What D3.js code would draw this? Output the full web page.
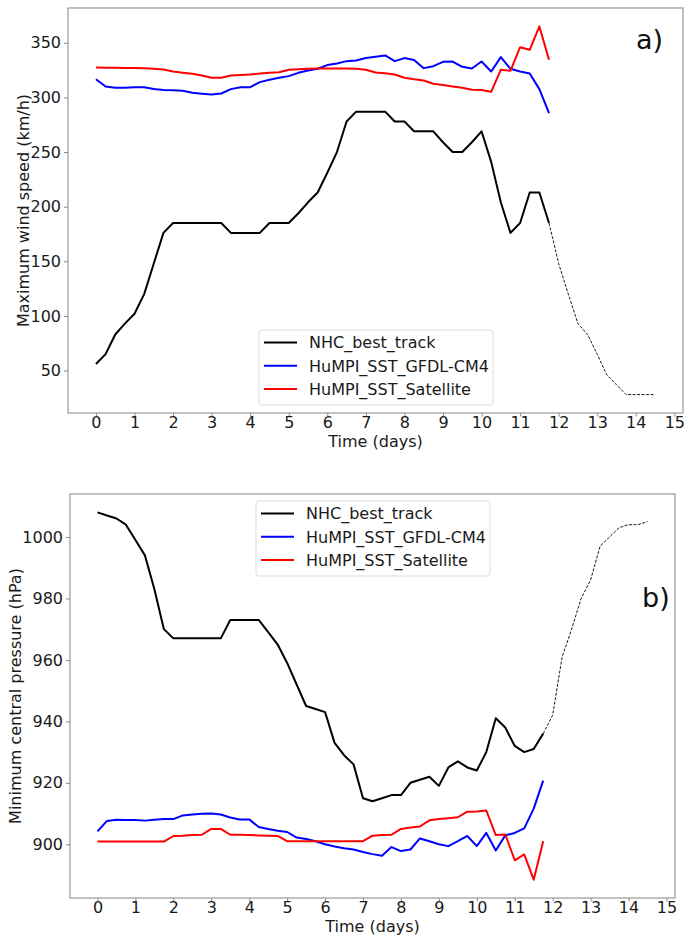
<!DOCTYPE html>
<html>
<head>
<meta charset="utf-8">
<script src="https://cdn.jsdelivr.net/npm/d3@7/dist/d3.min.js"></script>
<style>
  body { margin: 0; background: #fff; }
  svg { display: block; font-family: "DejaVu Sans", sans-serif; }
</style>
</head>
<body>
<svg id="chart" width="693" height="938"></svg>
<script>
// --- data (6-hourly, time in days) ---
const seriesNames = ['NHC_best_track', 'HuMPI_SST_GFDL-CM4', 'HuMPI_SST_Satellite'];
const seriesColors = ['#000000', '#0000ff', '#ff0000'];
const xTicks = d3.range(0, 16);

// wind speed (km/h), solid part of best track 0 .. 11.75
const windBest = [56, 65, 83, 93, 102, 120, 148, 176, 185, 185, 185, 185, 185, 185, 176, 176,
  176, 176, 185, 185, 185, 194, 204, 213, 231, 250, 278, 287, 287, 287, 287, 278,
  278, 269, 269, 269, 259, 250, 250, 259, 269, 241, 204, 176, 185, 213, 213, 185];
// best track after the model runs end, 11.75 .. 14.5 (dashed)
const windBestTail = [185, 148, 120, 93, 83, 65, 46, 37, 28, 28, 28, 28];
const windGfdl = [316.7, 310, 308.8, 308.9, 309.2, 309.4, 307.8, 306.8, 306.5, 306.2, 304.2, 303.4,
  302.7, 303.6, 307.6, 309.4, 309.4, 314, 316.1, 318, 319.5, 322.5, 324.6, 326.2,
  329.6, 331, 333.2, 333.8, 336, 337.2, 338.4, 333.2, 336, 334.2, 326.8, 328.6,
  332.6, 332.8, 328, 326.5, 332.9, 323.7, 336.9, 326.2, 323.7, 321.9, 307.6, 285.6];
const windSat = [327.4, 327.2, 327.1, 327, 327, 326.8, 326.2, 325.6, 323.7, 322.6, 321.6, 320.1,
  318, 318, 320, 320.5, 321, 321.8, 322.5, 323, 325.3, 325.8, 326.2, 326.4,
  326.5, 326.5, 326.5, 326.3, 325.3, 322.8, 322.2, 321, 318, 316.7, 315.5, 312.5,
  311.3, 310, 308.8, 307, 306.7, 305.1, 325.3, 324.4, 346, 343.6, 365, 334.5];

// central pressure (hPa)
const presBest = [1008, 1007, 1006, 1004, 999, 994, 983, 970, 967, 967, 967, 967, 967, 967, 973, 973,
  973, 973, 969, 965, 959, 952, 945, 944, 943, 933, 929, 926, 915, 914, 915, 916,
  916, 920, 921, 922, 919, 925, 927, 925, 924, 930, 941, 938, 932, 930, 931, 936];
const presBestTail = [936, 942, 961, 970, 980, 986, 997, 1000, 1003, 1004, 1004, 1005];
const presGfdl = [904.2, 907.6, 908, 907.9, 907.9, 907.7, 908, 908.2, 908.2, 909.4, 909.7, 909.9,
  910, 909.7, 908.7, 908.1, 908.1, 905.6, 905, 904.4, 904, 902.2, 901.7, 901,
  900, 899.3, 898.7, 898.3, 897.5, 896.8, 896.3, 899.1, 897.8, 898.3, 901.9, 901,
  900, 899.4, 901, 902.7, 899.4, 903.7, 898, 902.9, 903.7, 905.2, 911.6, 920.7];
const presSat = [900.9, 900.9, 900.9, 900.9, 900.9, 900.9, 900.9, 900.9, 902.7, 902.8, 903, 903.1,
  905, 905, 903.1, 903.1, 903, 902.9, 902.8, 902.7, 901, 901, 901, 901,
  901, 901, 901, 901, 901, 902.8, 903, 903.1, 905, 905.5, 905.8, 907.8,
  908.2, 908.5, 908.8, 910.6, 910.7, 911, 903, 903.2, 894.8, 896.7, 888.5, 901];

const times = windGfdl.map((_, i) => i * 0.25);
const tailTimes = windBestTail.map((_, i) => 11.75 + i * 0.25);

const svg = d3.select('#chart');

function drawPanel(p) {
  const g = svg.append('g');
  const allVals = p.series.flat().concat(p.tail);
  const [vmin, vmax] = d3.extent(allVals);
  const padY = (vmax - vmin) * 0.05;
  const x = d3.scaleLinear().domain([-0.725, 15.225]).range([p.left, p.right]);
  const y = d3.scaleLinear().domain([vmin - padY, vmax + padY]).range([p.bottom, p.top]);

  const line = d3.line().x(d => x(d[0])).y(d => y(d[1]));

  // lines
  p.series.forEach((vals, i) => {
    g.append('path')
      .datum(vals.map((v, j) => [times[j], v]))
      .attr('d', line)
      .attr('fill', 'none')
      .attr('stroke', seriesColors[i])
      .attr('stroke-width', 2)
      .attr('stroke-linejoin', 'round');
  });
  g.append('path')
    .datum(p.tail.map((v, j) => [tailTimes[j], v]))
    .attr('d', line)
    .attr('fill', 'none')
    .attr('stroke', '#000')
    .attr('stroke-width', 0.9)
    .attr('stroke-dasharray', '3,1.5');

  // axes
  const xAxis = g.append('g').attr('transform', `translate(0,${p.bottom})`)
    .call(d3.axisBottom(x).tickValues(xTicks).tickSize(3.5).tickPadding(0.5).tickFormat(d3.format('d')));
  const yAxis = g.append('g').attr('transform', `translate(${p.left},0)`)
    .call(d3.axisLeft(y).tickValues(p.yTicks).tickSize(4).tickPadding(3).tickFormat(d3.format('d')));
  [xAxis, yAxis].forEach(a => {
    a.select('.domain').remove();
    a.selectAll('line').attr('stroke', '#888');
    a.selectAll('text').attr('fill', '#1a1a1a').style('font-size', '16px').style('font-family', '"DejaVu Sans"');
  });

  // frame
  g.append('rect')
    .attr('x', p.left).attr('y', p.top)
    .attr('width', p.right - p.left).attr('height', p.bottom - p.top)
    .attr('fill', 'none').attr('stroke', '#999').attr('stroke-width', 1.2);

  g.append('text')
    .attr('x', (p.left + p.right) / 2).attr('y', p.bottom + 34)
    .attr('text-anchor', 'middle').style('font-size', '16px').attr('fill', '#1a1a1a')
    .text('Time (days)');
  g.append('text')
    .attr('transform', `translate(${p.ylabX},${(p.top + p.bottom) / 2}) rotate(-90)`)
    .attr('text-anchor', 'middle').style('font-size', '16px').attr('fill', '#1a1a1a')
    .text(p.ylabel);

  g.append('text')
    .attr('x', p.tagX).attr('y', p.tagY)
    .style('font-size', '27px').attr('fill', '#111')
    .text(p.tag);

  // legend
  const lg = g.append('g').attr('transform', `translate(${p.legX},${p.legY})`);
  lg.append('rect')
    .attr('width', 234).attr('height', 75).attr('rx', 3)
    .attr('fill', '#fff').attr('fill-opacity', 0.85)
    .attr('stroke', '#ddd').attr('stroke-width', 1);
  seriesNames.forEach((name, i) => {
    const cy = 12.5 + i * 23.3;
    lg.append('line')
      .attr('x1', 5).attr('x2', 38).attr('y1', cy).attr('y2', cy)
      .attr('stroke', seriesColors[i]).attr('stroke-width', 2);
    lg.append('text')
      .attr('x', 50).attr('y', cy).attr('dy', '0.36em')
      .style('font-size', '16px').attr('fill', '#1a1a1a')
      .text(name);
  });
}

drawPanel({
  series: [windBest, windGfdl, windSat], tail: windBestTail,
  left: 68, right: 683, top: 8, bottom: 413,
  yTicks: [50, 100, 150, 200, 250, 300, 350],
  ylabel: 'Maximum wind speed (km/h)', ylabX: 29,
  tag: 'a)', tagX: 636, tagY: 49,
  legX: 259, legY: 330
});

drawPanel({
  series: [presBest, presGfdl, presSat], tail: presBestTail,
  left: 70, right: 675, top: 494, bottom: 898,
  yTicks: [900, 920, 940, 960, 980, 1000],
  ylabel: 'Minimum central pressure (hPa)', ylabX: 21,
  tag: 'b)', tagX: 642, tagY: 607,
  legX: 256, legY: 501
});
</script>
</body>
</html>
